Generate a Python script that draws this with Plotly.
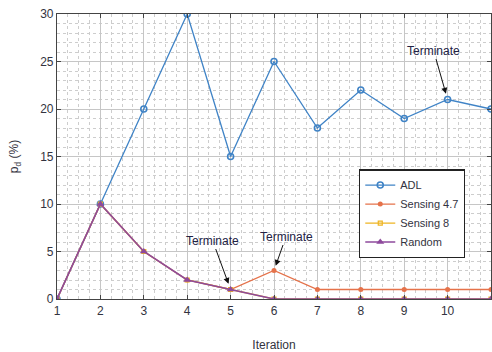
import plotly.graph_objects as go

iterations = [1, 2, 3, 4, 5, 6, 7, 8, 9, 10, 11]
adl = [0, 10, 20, 30, 15, 25, 18, 22, 19, 21, 20]
sensing_47 = [0, 10, 5, 2, 1, 3, 1, 1, 1, 1, 1]
sensing_8 = [0, 10, 5, 2, 1, 0, 0, 0, 0, 0, 0]
random_ = [0, 10, 5, 2, 1, 0, 0, 0, 0, 0, 0]
x_ticks = [1, 2, 3, 4, 5, 6, 7, 8, 9, 10, 11]
y_ticks = [0, 5, 10, 15, 20, 25, 30]

FONT = "Liberation Sans, Arial, sans-serif"
TXT = "#333340"

fig = go.Figure()
fig.add_trace(go.Scatter(x=iterations, y=adl, name="ADL", mode="lines+markers",
                         line=dict(color="#3f83c6", width=1.3),
                         marker=dict(symbol="circle-open", size=6, color="#3f83c6", line=dict(width=1.6))))
fig.add_trace(go.Scatter(x=iterations, y=sensing_47, name="Sensing 4.7", mode="lines+markers",
                         line=dict(color="#e5724a", width=1.3),
                         marker=dict(symbol="circle", size=5, color="#e5724a")))
fig.add_trace(go.Scatter(x=iterations, y=sensing_8, name="Sensing 8", mode="lines+markers",
                         line=dict(color="#eeb422", width=1.3),
                         marker=dict(symbol="square-open", size=4, color="#eeb422", line=dict(width=1.2))))
fig.add_trace(go.Scatter(x=iterations, y=random_, name="Random", mode="lines+markers",
                         line=dict(color="#8e4a9c", width=1.6),
                         marker=dict(symbol="triangle-up", size=7, color="#8e4a9c")))

ann_font = dict(family=FONT, size=12, color="#222244")
fig.add_annotation(x=10, y=21, text="Terminate", showarrow=True, ax=-14, ay=-49,
                   arrowhead=2, arrowsize=1.2, arrowwidth=1, arrowcolor="#111111", standoff=6, font=ann_font)
fig.add_annotation(x=5, y=1, text="Terminate", showarrow=True, ax=-18, ay=-49,
                   arrowhead=2, arrowsize=1.2, arrowwidth=1, arrowcolor="#111111", standoff=6, font=ann_font)
fig.add_annotation(x=6, y=3, text="Terminate", showarrow=True, ax=12, ay=-34,
                   arrowhead=2, arrowsize=1.2, arrowwidth=1, arrowcolor="#111111", standoff=5, font=ann_font)

axis_common = dict(showline=True, linecolor="#444444", linewidth=1.2, mirror="ticks",
                   ticks="inside", ticklen=4, tickcolor="#444444", automargin=False,
                   showgrid=True, gridcolor="#c6c6c6", gridwidth=1.3, zeroline=False,
                   tickfont=dict(family=FONT, size=12, color=TXT))

fig.update_xaxes(range=[1, 11], tickvals=x_ticks, ticktext=[str(v) for v in x_ticks],
                 minor=dict(dtick=0.25, showgrid=True, gridcolor="#cdcdcd", griddash="dot", gridwidth=1),
                 title=dict(text="Iteration", font=dict(family=FONT, size=12, color=TXT), standoff=25),
                 **axis_common)
fig.update_yaxes(range=[0, 30], tickvals=y_ticks,
                 minor=dict(dtick=1, showgrid=True, gridcolor="#cdcdcd", griddash="dot", gridwidth=1),
                 title=dict(text="p<sub>d</sub> (%)", font=dict(family=FONT, size=12, color=TXT), standoff=18),
                 **axis_common)

fig.update_layout(
    width=492, height=352,
    margin=dict(l=57, r=1, t=14, b=53),
    paper_bgcolor="white", plot_bgcolor="white",
    showlegend=True,
    legend=dict(x=0.696, y=0.455, xanchor="left", yanchor="top",
                bgcolor="white", bordercolor="#222222", borderwidth=1.2,
                font=dict(family=FONT, size=11, color=TXT),
                tracegroupgap=0, itemwidth=30),
)

fig.write_html("out.html", config={"displayModeBar": False},
               post_script="document.body.style.margin='0px';document.body.style.overflow='hidden';")
